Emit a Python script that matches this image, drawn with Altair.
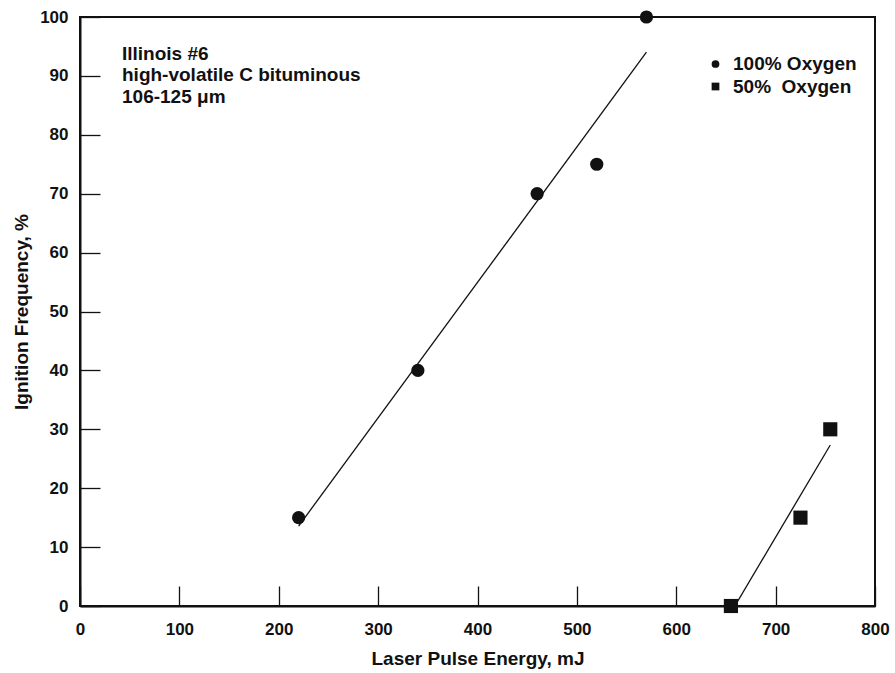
import altair as alt
import pandas as pd

# ---- data ----
series_100 = "100% Oxygen"
series_50 = "50%\u00a0 Oxygen"
energy_100 = [220, 340, 460, 520, 570]
freq_100 = [15, 40, 70, 75, 100]
energy_50 = [655, 725, 755]
freq_50 = [0, 15, 30]
x_ticks = [0, 100, 200, 300, 400, 500, 600, 700, 800]
y_ticks = [0, 10, 20, 30, 40, 50, 60, 70, 80, 90, 100]
note_lines = ["Illinois #6", "high-volatile C bituminous", "106-125 \u03bcm"]

df = pd.DataFrame({
    "energy": energy_100 + energy_50,
    "freq": freq_100 + freq_50,
    "series": [series_100] * len(energy_100) + [series_50] * len(energy_50),
})

FONT = "Liberation Sans"
INK = "#111111"

x_scale = alt.Scale(domain=[0, 800], nice=False, zero=False)
y_scale = alt.Scale(domain=[0, 100], nice=False)

x_axis = alt.Axis(values=x_ticks, title="Laser Pulse Energy, mJ", grid=False,
                  tickSize=alt.ExprRef(expr="-20"), labelPadding=35,
                  labelFlush=False, labelOverlap=False, titlePadding=12)
y_axis = alt.Axis(values=y_ticks, title="Ignition Frequency, %", grid=False,
                  tickSize=alt.ExprRef(expr="-20"), labelPadding=32,
                  labelFlush=False, labelOverlap=False, titlePadding=8)

base = alt.Chart(df)

fit = base.transform_regression(
    "energy", "freq", groupby=["series"]
).mark_line(color=INK, strokeWidth=1.3, clip=True).encode(
    x=alt.X("energy:Q", scale=x_scale, axis=x_axis),
    y=alt.Y("freq:Q", scale=y_scale, axis=y_axis),
    detail="series:N",
)

pts = base.mark_point(filled=True, opacity=1, color=INK).encode(
    x=alt.X("energy:Q", scale=x_scale, axis=x_axis),
    y=alt.Y("freq:Q", scale=y_scale, axis=y_axis),
    shape=alt.Shape("series:N",
                    scale=alt.Scale(domain=[series_100, series_50], range=["circle", "square"]),
                    legend=alt.Legend(title=None, orient="none", legendX=626, legendY=37.5,
                                      symbolSize=60, symbolFillColor=INK, symbolStrokeWidth=0,
                                      labelFontSize=19, labelFont=FONT, labelFontWeight="bold",
                                      labelColor=INK, labelOffset=8, rowPadding=2.5, padding=0)),
    size=alt.condition(alt.datum.series == series_100, alt.value(175), alt.value(200)),
)

note = alt.Chart(pd.DataFrame({"k": [0]})).mark_text(
    align="left", baseline="top", font=FONT, fontSize=19, fontWeight="bold",
    lineHeight=21.7, color=INK
).encode(
    x=alt.value(42), y=alt.value(27.5), text=alt.value(note_lines)
)

chart = alt.layer(fit, pts, note).properties(
    width=795, height=589,
    autosize=alt.AutoSizeParams(type="none"),
    padding={"left": 80, "top": 17, "right": 20, "bottom": 67},
    background="white",
).configure_view(
    stroke=INK, strokeWidth=2
).configure_axis(
    domainColor=INK, domainWidth=2, tickColor=INK, tickWidth=1.3,
    labelFont=FONT, labelFontSize=17, labelFontWeight="bold", labelColor=INK,
    titleFont=FONT, titleFontSize=19, titleFontWeight="bold", titleColor=INK,
)

chart.save("out.html", embed_options={"renderer": "svg", "actions": False})
